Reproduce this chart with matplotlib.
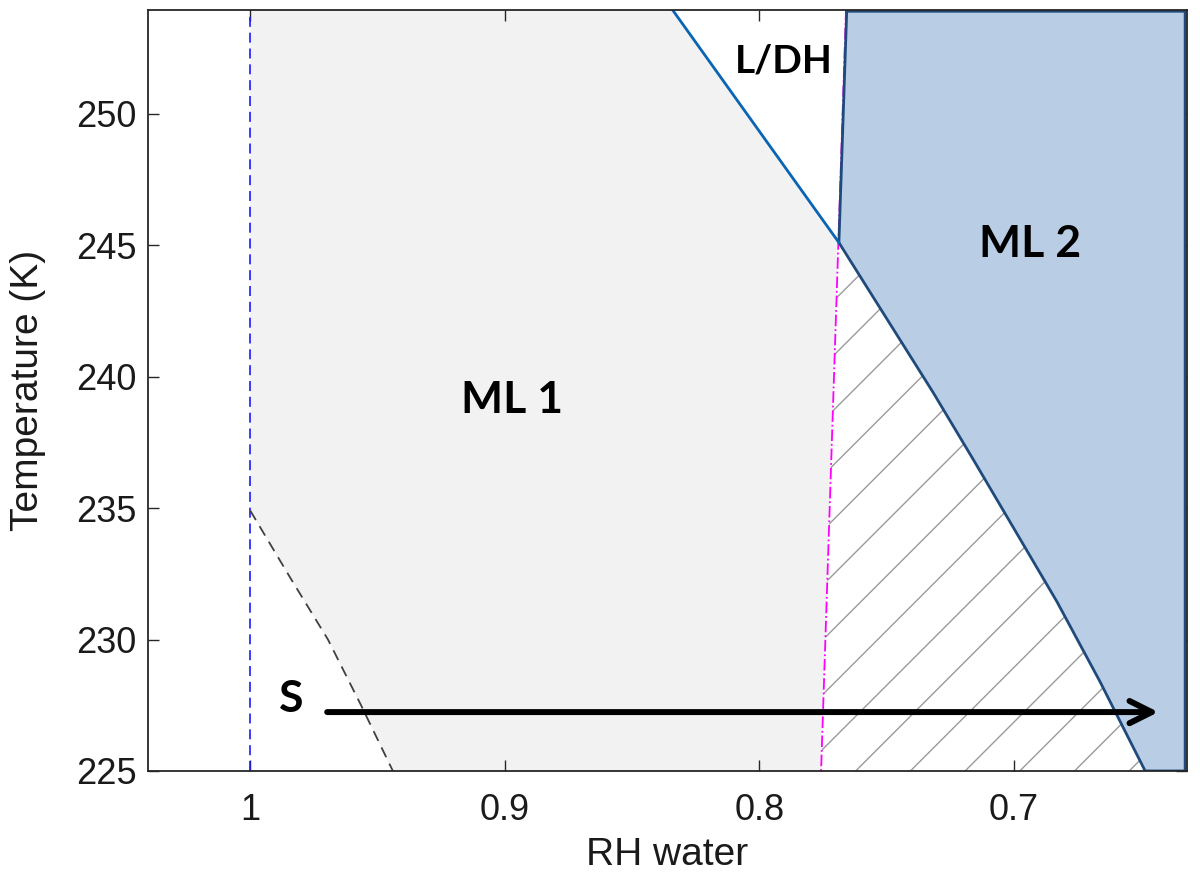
import matplotlib
matplotlib.use("Agg")
import matplotlib.pyplot as plt
import numpy as np
from matplotlib.patches import Polygon

# tick values
x_ticks = [1, 0.9, 0.8, 0.7]
x_ticklabels = ["1", "0.9", "0.8", "0.7"]
y_ticks = [225, 230, 235, 240, 245, 250]

# boundary between ML 1 and L/DH (blue line)
ldh_rh = [0.8345, 0.7688]
ldh_T = [254.0, 245.1]

# left / lower boundary of ML 2
ml2_rh = [0.7657, 0.7688, 0.7318, 0.7161, 0.7004, 0.6831, 0.6662, 0.6485]
ml2_T = [254.0, 245.1, 239.4, 236.86, 234.28, 231.43, 228.39, 225.0]

# magenta dash-dot line
mag_rh = [0.7660, 0.7758]
mag_T = [254.0, 225.0]

# black dashed curve (lower left)
dash_rh = [1.0, 0.984, 0.9695, 0.9565, 0.944]
dash_T = [234.9, 232.3, 230.0, 227.5, 225.0]

# arrow S
arrow_rh = [0.9698, 0.6433]
arrow_T = 227.24

xlim = (1.0402, 0.6321)
ylim = (225, 253.95)

fig = plt.figure(figsize=(12, 8.8), dpi=100)
ax = fig.add_axes([0.1233, 0.1239, 0.8658, 0.8648])
ax.set_xlim(*xlim)
ax.set_ylim(*ylim)

# ML 1 grey region
t_mid = ml2_T[1]
rh_mid = mag_rh[1] + (mag_rh[0] - mag_rh[1]) * (t_mid - mag_T[1]) / (mag_T[0] - mag_T[1])
ml1_pts = [(1.0, ylim[1])] + list(zip(dash_rh, dash_T)) + [(mag_rh[1], 225.0), (rh_mid, t_mid), (ldh_rh[0], ylim[1])]
ax.add_patch(Polygon(ml1_pts, closed=True, facecolor="#f2f2f2", edgecolor="none", zorder=1))

# hatched region
hatch_pts = [(mag_rh[1], 225.0), (rh_mid, t_mid)] + list(zip(ml2_rh[2:], ml2_T[2:]))
hatch_poly = Polygon(hatch_pts, closed=True, facecolor="white", edgecolor="none", zorder=1)
ax.add_patch(hatch_poly)

# 45 degree hatch lines, built in pixel space then mapped back to data
fig.canvas.draw()
to_px = ax.transData
to_data = ax.transData.inverted()
bx0 = to_px.transform((0.7622, 225.0))
for k in range(-10, 10):
    x0 = bx0[0] + k * 54.7
    seg_px = np.array([[x0 - 800, bx0[1] - 800], [x0 + 800, bx0[1] + 800]])
    seg = to_data.transform(seg_px)
    ln, = ax.plot(seg[:, 0], seg[:, 1], color="#9a9a9a", lw=1.0, zorder=2)
    ln.set_clip_path(hatch_poly)

# ML 2 region
ml2_pts = list(zip(ml2_rh, ml2_T)) + [(0.6328, 225.0), (0.6328, 253.9), (ml2_rh[0], 253.9)]
ax.add_patch(Polygon(ml2_pts, closed=True, facecolor="#b9cde5", edgecolor="#1f4a7c", lw=2.0, zorder=4))

# lines
ax.plot([1, 1], [225, 254], color="#1a1aff", lw=1.2, dashes=(6, 3.5), zorder=3)
ax.plot(dash_rh, dash_T, color="#404040", lw=1.3, dashes=(6, 4), zorder=3)
ax.plot(mag_rh, mag_T, color="#ff00ff", lw=1.3, linestyle="-.", zorder=3)
ax.plot(ldh_rh, ldh_T, color="#0a64b4", lw=2.0, zorder=5)

ax.annotate("", xy=(arrow_rh[1], arrow_T), xytext=(arrow_rh[0], arrow_T),
            arrowprops=dict(arrowstyle="->", color="black", lw=4.3,
                            mutation_scale=40, shrinkA=0, shrinkB=0),
            zorder=6)

# region labels
lab = dict(fontsize=32, fontweight="bold", family=["Lato", "DejaVu Sans"],
           ha="center", va="baseline", color="black", zorder=7)
ax.text(0.8972, 238.61, "ML 1", **lab)
ax.text(0.6937, 244.57, "ML 2", **lab)
ax.text(0.7904, 251.56, "L/DH", **dict(lab, fontsize=28))
ax.text(0.9841, 227.25, "S", **lab)

# axes styling
ax.set_xticks(x_ticks)
ax.set_xticklabels(x_ticklabels)
ax.set_yticks(y_ticks)
ax.tick_params(direction="in", length=8, width=1.0, color="#262626",
               top=True, right=True, labelsize=26, labelcolor="#1a1a1a")
ax.tick_params(axis="x", pad=16)
ax.tick_params(axis="y", pad=8)
for lbl in ax.get_xticklabels() + ax.get_yticklabels():
    lbl.set_family(["Liberation Sans", "DejaVu Sans"])
for s in ax.spines.values():
    s.set_linewidth(1.3)
    s.set_color("#262626")
    s.set_zorder(8)

ax.set_xlabel("RH water", fontsize=28, family=["Liberation Sans", "DejaVu Sans"],
              color="#1a1a1a", labelpad=6)
ax.set_ylabel("Temperature (K)", fontsize=28, family=["Liberation Sans", "DejaVu Sans"],
              color="#1a1a1a", labelpad=22)

fig.savefig("out.png", dpi=100)
